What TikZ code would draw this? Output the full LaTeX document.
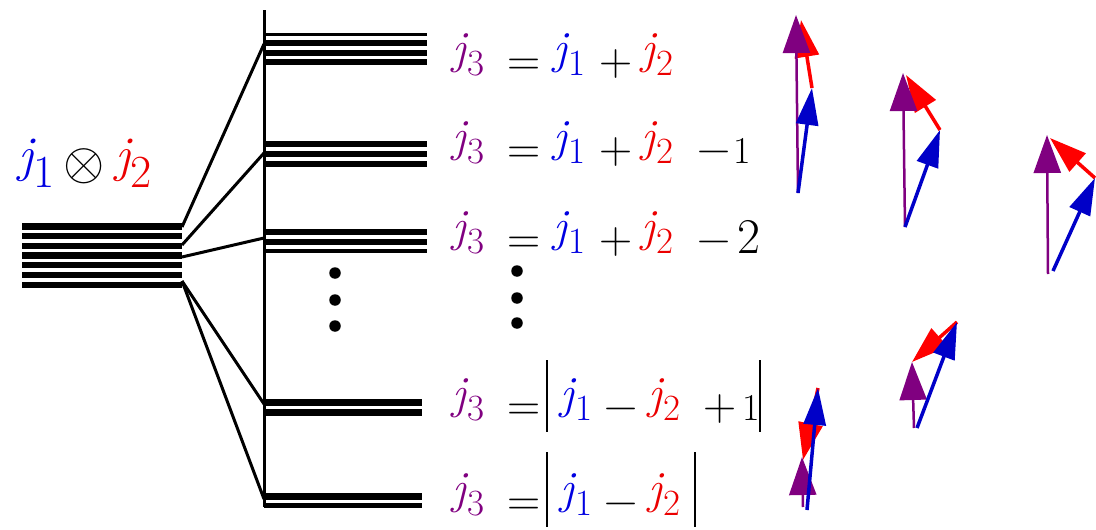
\RequirePackage{fix-cm}
\documentclass[tikz,border=0pt]{standalone}
\usepackage{fontspec}
\usetikzlibrary{arrows.meta}
\definecolor{jpurple}{RGB}{128,0,128}
\definecolor{jblue}{RGB}{0,0,225}
\definecolor{jred}{RGB}{235,0,0}
\definecolor{vblue}{RGB}{0,0,200}
\definecolor{vred}{RGB}{255,0,0}
\newcommand\jsym[2]{\textcolor{#1}{\raisebox{12pt}{\fontsize{46}{46}\selectfont\itshape j}\hspace{1pt}{\fontsize{37}{37}\selectfont #2}}}
\newcommand\jbig[2]{\textcolor{#1}{\raisebox{16pt}{\fontsize{50}{50}\selectfont\itshape j}\hspace{0pt}{\fontsize{46}{46}\selectfont #2}}}
\newcommand\putat[2]{\makebox[0pt][l]{\hspace*{#1}#2}}
\newcommand\opf[1]{{\fontsize{46}{46}\selectfont #1}}
\tikzset{
  lvl/.style={line width=6.3pt},
  conn/.style={line width=3pt},
  eqrow/.style={anchor=base west, inner sep=0pt},
  vp/.style={draw=jpurple, line width=2.5pt, -{Triangle[length=38pt,width=27pt]}, color=jpurple},
  vb/.style={draw=vblue, line width=3.5pt, -{Triangle[length=37pt,width=22pt]}, color=vblue},
  vr/.style={draw=vred, line width=3.5pt, -{Triangle[length=37pt,width=24pt]}, color=vred},
  dotm/.style={fill=black, circle, inner sep=0pt, minimum size=11.5pt}
}
\begin{document}
\begin{tikzpicture}[x=1pt,y=-1pt]
\useasboundingbox (0,0) rectangle (1096,530);
% left stack
\foreach \k in {0,...,6} {
  \draw[lvl] (22,{226.5+\k*9.7}) -- (182,{226.5+\k*9.7});
}
\coordinate (L1) at (182,227);
\coordinate (L2) at (182,245);
\coordinate (L3) at (182,257);
\coordinate (L4) at (182,281);
% vertical axis
\coordinate (axtop) at (264,10);
\coordinate (axbot) at (264,507);
\draw[conn] (axtop) -- (axbot);
% right levels
\draw[line width=2.5pt] (264,34.5) -- (427,34.5);
\foreach \y in {42.8,52.8,62.3} { \draw[lvl] (264,\y) -- (427,\y); }
\foreach \y in {144.3,153.8,164.3} { \draw[lvl] (264,\y) -- (427,\y); }
\foreach \y in {232,241.7} { \draw[lvl] (264,\y) -- (427,\y); }
\draw[line width=4pt] (264,250.7) -- (427,250.7);
\foreach \y in {402,412} { \draw[line width=7pt] (264,\y) -- (422,\y); }
\draw[lvl] (264,496.5) -- (422,496.5);
\draw[line width=4.5pt] (264,505.3) -- (422,505.3);
\coordinate (R1) at (264,44);
\coordinate (R2) at (264,153);
\coordinate (R3) at (264,238);
\coordinate (R4) at (264,404);
\coordinate (R5) at (264,499);
\draw[conn] (L1) -- (R1);
\draw[conn] (L2) -- (R2);
\draw[conn] (L3) -- (R3);
\draw[conn] (L4) -- (R4);
\draw[conn] (L4) -- (R5);
% dots
\foreach \y [count=\i] in {273,300,326} { \node[dotm] (da\i) at (335,\y) {}; }
\foreach \y [count=\i] in {271,298,323} { \node[dotm] (db\i) at (517,\y) {}; }
% left label
\node[eqrow] (lab1) at (18,187) {\jbig{jblue}{1}};
\node[inner sep=0pt] (otimes) at (84,166) {\fontsize{53}{53}\selectfont$\otimes$};
\node[eqrow] (lab2) at (115,187) {\jbig{jred}{2}};
% equations
\node[eqrow] (eq1) at (452,75) {\putat{0pt}{\jsym{jpurple}{3}}\putat{55pt}{\opf{=}}\putat{101pt}{\jsym{jblue}{1}}\putat{147pt}{\opf{+}}\putat{189pt}{\jsym{jred}{2}}};
\node[eqrow] (eq2) at (452,163) {\putat{0pt}{\jsym{jpurple}{3}}\putat{55pt}{\opf{=}}\putat{101pt}{\jsym{jblue}{1}}\putat{147pt}{\opf{+}}\putat{189pt}{\jsym{jred}{2}}\putat{245pt}{\opf{\char"2212}}\putat{281pt}{\fontsize{38}{38}\selectfont 1}};
\node[eqrow] (eq3) at (452,253) {\putat{0pt}{\jsym{jpurple}{3}}\putat{55pt}{\opf{=}}\putat{101pt}{\jsym{jblue}{1}}\putat{147pt}{\opf{+}}\putat{189pt}{\jsym{jred}{2}}\putat{245pt}{\opf{\char"2212}}\putat{285pt}{\fontsize{50}{50}\selectfont 2}};
\node[eqrow] (eq4) at (452,420) {\putat{0pt}{\jsym{jpurple}{3}}\putat{55pt}{\opf{=}}\putat{108pt}{\jsym{jblue}{1}}\putat{152pt}{\opf{\char"2212}}\putat{196pt}{\jsym{jred}{2}}\putat{251pt}{\opf{+}}\putat{290pt}{\fontsize{38}{38}\selectfont 1}};
\node[eqrow] (eq5) at (452,515) {\putat{0pt}{\jsym{jpurple}{3}}\putat{55pt}{\opf{=}}\putat{108pt}{\jsym{jblue}{1}}\putat{152pt}{\opf{\char"2212}}\putat{196pt}{\jsym{jred}{2}}};
% absolute bars
\draw[line width=2.5pt] (547,360) -- (547,432);
\draw[line width=2.5pt] (760,360) -- (760,432);
\draw[line width=2.5pt] (547,452) -- (547,527);
\draw[line width=2.5pt] (695,452) -- (695,527);
% vector group 1
\coordinate (o1) at (798,193); \coordinate (p1) at (796,15); \coordinate (b1) at (812,88); \coordinate (r1) at (801,20);
\draw[vr] (b1) -- (r1);
\draw[vp] (o1) -- (p1);
\draw[vb] (o1) -- (b1);
% group 2
\coordinate (o2) at (905,227); \coordinate (p2) at (903,73); \coordinate (b2) at (940,130); \coordinate (r2) at (906,75);
\draw[vr] (b2) -- (r2);
\draw[vp] (o2) -- (p2);
\draw[vb] (o2) -- (b2);
% group 3
\coordinate (o3) at (1048,274); \coordinate (o3b) at (1053,271); \coordinate (p3) at (1047,135); \coordinate (b3) at (1095,178); \coordinate (r3) at (1050,138);
\draw[vr] (b3) -- (r3);
\draw[vp] (o3) -- (p3);
\draw[vb] (o3b) -- (b3);
% group 4
\coordinate (o4) at (914,428); \coordinate (o4b) at (917,428); \coordinate (p4) at (912,362); \coordinate (b4) at (957,322); \coordinate (r4) at (912,362);
\draw[vr] (b4) -- (r4);
\draw[vp] (o4) -- (p4);
\draw[vb] (o4b) -- (b4);
% group 5
\coordinate (o5) at (803,507); \coordinate (o5b) at (807,510); \coordinate (p5) at (802,457); \coordinate (b5) at (818,388); \coordinate (r5) at (803,460);
\draw[vr] (b5) -- (r5);
\draw[vp] (o5) -- (p5);
\draw[vb] (o5b) -- (b5);
\end{tikzpicture}
\end{document}
